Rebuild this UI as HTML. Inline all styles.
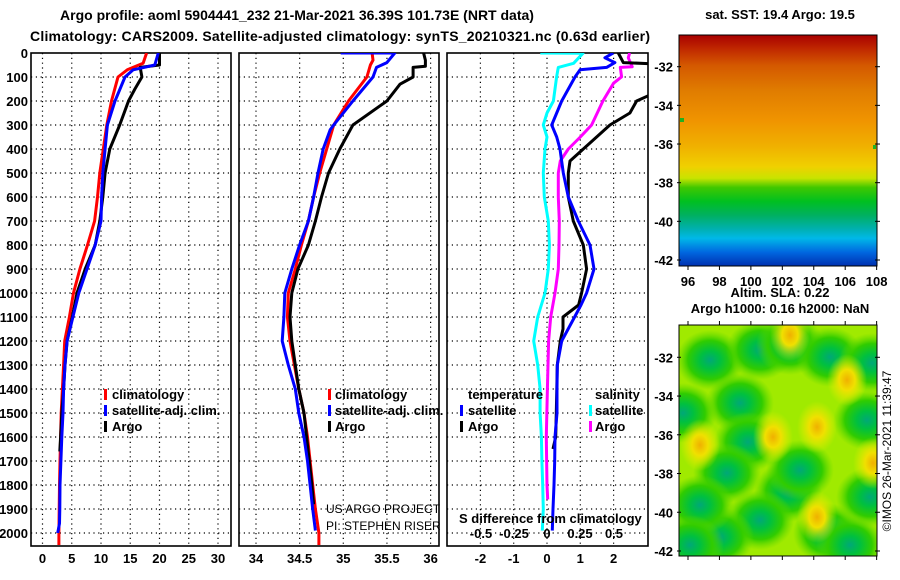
<!DOCTYPE html>
<html><head><meta charset="utf-8"><style>
html,body{margin:0;padding:0;background:#fff;}
svg{display:block;font-family:"Liberation Sans",sans-serif;}
.b{font-weight:bold;font-size:13px;}
.t{font-weight:bold;font-size:14px;}
</style></head><body>
<svg id="chart" width="900" height="580" viewBox="0 0 900 580" xmlns="http://www.w3.org/2000/svg">
<defs>
<clipPath id="c1"><rect x="31" y="53" width="200" height="493"/></clipPath>
<clipPath id="c2"><rect x="239" y="53" width="200" height="493"/></clipPath>
<clipPath id="c3"><rect x="447" y="53" width="201" height="493"/></clipPath>
<linearGradient id="sstg" x1="0" y1="0" x2="0" y2="1">
<stop offset="0" stop-color="#a80000"/><stop offset="0.06" stop-color="#c02800"/>
<stop offset="0.13" stop-color="#d45800"/><stop offset="0.24" stop-color="#e07c00"/>
<stop offset="0.37" stop-color="#f09400"/><stop offset="0.48" stop-color="#f0b000"/>
<stop offset="0.57" stop-color="#f0d000"/><stop offset="0.62" stop-color="#c8e400"/>
<stop offset="0.66" stop-color="#40c800"/><stop offset="0.72" stop-color="#00c020"/>
<stop offset="0.78" stop-color="#00b060"/><stop offset="0.84" stop-color="#00b0b0"/>
<stop offset="0.88" stop-color="#00b8e8"/><stop offset="0.94" stop-color="#0068e0"/>
<stop offset="1" stop-color="#0030b0"/></linearGradient>
<radialGradient id="gb"><stop offset="0" stop-color="#00a878"/><stop offset="0.3" stop-color="#00c040"/><stop offset="0.65" stop-color="#30cc00"/><stop offset="1" stop-color="#60d800" stop-opacity="0"/></radialGradient>
<radialGradient id="gy"><stop offset="0" stop-color="#f0b000"/><stop offset="0.4" stop-color="#f0e000"/><stop offset="1" stop-color="#e0f000" stop-opacity="0"/></radialGradient>
<clipPath id="cm2"><rect x="679" y="325" width="198" height="231"/></clipPath>
</defs>
<text class="t" x="297" y="20" text-anchor="middle">Argo profile: aoml 5904441_232 21-Mar-2021 36.39S 101.73E (NRT data)</text>
<text class="t" x="340" y="41" text-anchor="middle" textLength="620">Climatology: CARS2009. Satellite-adjusted climatology: synTS_20210321.nc (0.63d earlier)</text>
<g id="grid"></g>
<g id="axes"></g>
<g id="series"></g>

<g class="b">
<rect x="104" y="389" width="3" height="11" fill="#f00"/><text x="112" y="399">climatology</text>
<rect x="104" y="405" width="3" height="11" fill="#00f"/><text x="112" y="415">satellite-adj. clim.</text>
<rect x="104" y="421" width="3" height="11" fill="#000"/><text x="112" y="431">Argo</text>
</g>
<g class="b">
<rect x="328" y="389" width="3" height="11" fill="#f00"/><text x="335" y="399">climatology</text>
<rect x="328" y="405" width="3" height="11" fill="#00f"/><text x="335" y="415">satellite-adj. clim.</text>
<rect x="328" y="421" width="3" height="11" fill="#000"/><text x="335" y="431">Argo</text>
</g>
<g class="b">
<text x="468" y="399">temperature</text><text x="595" y="399">salinity</text>
<rect x="460" y="405" width="3" height="11" fill="#00f"/><text x="468" y="415">satellite</text>
<rect x="460" y="421" width="3" height="11" fill="#000"/><text x="468" y="431">Argo</text>
<rect x="589" y="405" width="3" height="11" fill="#0ff"/><text x="595" y="415">satellite</text>
<rect x="589" y="421" width="3" height="11" fill="#f0f"/><text x="595" y="431">Argo</text>
</g>
<text class="b" x="459" y="523">S difference from climatology</text>
<g class="b" text-anchor="middle">
<text x="481" y="538">-0.5</text><text x="514" y="538">-0.25</text><text x="547" y="538">0</text><text x="580" y="538">0.25</text><text x="614" y="538">0.5</text></g>
<text x="326" y="513" font-size="12">US ARGO PROJECT</text>
<text x="326" y="530" font-size="12">PI: STEPHEN RISER</text>

<g>
<text class="b" x="780" y="19" text-anchor="middle">sat. SST: 19.4 Argo: 19.5</text>
<rect x="679" y="35" width="198" height="231" fill="url(#sstg)"/>
<rect x="679" y="35" width="198" height="231" fill="none" stroke="#000"/>
<rect x="680" y="118" width="4" height="4" fill="#20b020"/>
<rect x="873" y="145" width="3" height="4" fill="#20b020"/>
</g>
<g>
<text class="b" x="780" y="297" text-anchor="middle">Altim. SLA: 0.22</text>
<text class="b" x="780" y="313" text-anchor="middle">Argo h1000: 0.16 h2000: NaN</text>
<rect x="679" y="325" width="198" height="231" fill="#a0ea00"/>
<g clip-path="url(#cm2)" id="blobs"></g>
<rect x="679" y="325" width="198" height="231" fill="none" stroke="#000"/>
</g>
<text x="891" y="451" font-size="12" text-anchor="middle" transform="rotate(-90 891 451)">©IMOS 26-Mar-2021 11:39:47</text>
<g id="maxes" class="b"></g>
</svg>
<script>
// depth axis
const depthTicks = [0,100,200,300,400,500,600,700,800,900,1000,1100,1200,1300,1400,1500,1600,1700,1800,1900,2000];
const tempTicks = [0,5,10,15,20,25,30];
const salTicks = [34,34.5,35,35.5,36];
const salLabels = ["34","34.5","35","35.5","36"];
const diffTicks = [-2,-1,0,1,2];
const lonTicks = [96,98,100,102,104,106,108];
const latTicks = [-32,-34,-36,-38,-40,-42];

// temperature panel
const tClimDepth = [0,43,70,100,200,300,400,500,600,700,800,900,1000,1100,1200,1300,1400,1500,1600,1700,1800,1900,2000,2050];
const tClimVal   = [17.8,17.2,14.5,12.9,11.8,11.0,10.4,9.8,9.4,8.9,7.7,6.4,5.3,4.6,3.8,3.6,3.4,3.2,3.1,3.0,2.9,2.85,2.8,2.8];
const tSatDepth = [0,50,70,100,200,300,400,500,600,700,800,900,1000,1100,1200,1300,1400,1500,1600,1700,1800,1900,1960,2000];
const tSatVal   = [19.8,19.2,15.5,14.1,12.4,11.1,10.7,10.3,10.1,10.0,9.0,7.6,6.2,5.2,4.2,3.85,3.6,3.5,3.3,3.15,3.0,2.95,2.9,2.6];
const tArgoDepth = [0,50,60,100,150,200,300,400,500,600,700,800,900,1000,1100,1200,1300,1400,1500,1600,1660];
const tArgoVal   = [20,20,16.7,17,15.8,14.7,13.2,11.5,10.7,10.3,9.8,9.0,7.3,5.9,5.1,4.2,3.85,3.6,3.3,3.1,2.95];
// salinity panel
const sClimDepth = [0,30,50,100,200,300,400,500,600,700,800,900,1000,1100,1200,1300,1400,1500,1600,1700,1800,1900,2000,2050];
const sClimVal   = [35.33,35.34,35.31,35.27,35.06,34.89,34.81,34.73,34.66,34.60,34.52,34.45,34.37,34.36,34.39,34.44,34.49,34.55,34.59,34.62,34.65,34.68,34.72,34.72];
const sSatDepth = [0,0.1,40,60,100,200,300,320,400,500,600,700,800,900,1000,1100,1200,1300,1400,1500,1600,1700,1800,1900,1990];
const sSatVal   = [34.97,35.59,35.50,35.38,35.34,35.11,34.89,34.85,34.77,34.71,34.66,34.60,34.50,34.41,34.33,34.32,34.30,34.37,34.45,34.49,34.55,34.59,34.62,34.65,34.68];
const sArgoDepth = [0,30,55,60,100,130,200,300,400,500,600,700,800,900,1000,1100,1200,1300,1400,1500,1600,1700,1800,1880];
const sArgoVal   = [35.92,35.94,35.94,35.80,35.80,35.65,35.50,35.11,34.96,34.83,34.75,34.68,34.60,34.48,34.41,34.39,34.41,34.45,34.49,34.55,34.58,34.61,34.64,34.66];
// difference panel (temperature units; salinity values are S diff, plotted x4)
const dTSatDepth = [0,20,40,60,70,100,200,300,350,400,500,600,700,800,900,1000,1050,1100,1200,1300,1400,1500,1600,1700,1800,1900,1990];
const dTSatVal   = [1.99,1.74,2.04,1.79,0.99,0.84,0.44,0.14,0.29,0.39,0.49,0.64,0.94,1.29,1.41,1.19,1.02,0.83,0.44,0.31,0.30,0.30,0.24,0.23,0.21,0.18,0.16];
const dTArgoDepth = [0,40,45,168,200,250,300,400,450,500,600,700,800,900,1000,1050,1100,1150,1200,1300,1500,1600,1650];
const dTArgoVal   = [2.14,2.29,3.2,3.2,2.69,2.49,1.89,1.09,0.69,0.64,0.64,0.79,1.09,1.19,1.04,0.95,0.48,0.48,0.40,0.31,0.28,0.26,0.18];
const dSSatDepth = [0,1,43,60,100,200,250,300,350,400,500,600,700,800,900,1000,1100,1200,1300,1400,1500,1600,1700,1800,1900,1990];
const dSSatVal   = [-0.05,0.27,0.20,0.085,0.072,0.048,0,-0.028,0,-0.015,-0.028,-0.02,0.01,0.018,0.01,-0.015,-0.07,-0.10,-0.07,-0.052,-0.052,-0.042,-0.038,-0.032,-0.028,-0.035];
const dSArgoDepth = [0,20,57,60,99,126,200,300,350,400,450,500,600,700,800,900,1000,1100,1200,1400,1600,1800,1860];
const dSArgoVal   = [0.62,0.61,0.64,0.55,0.56,0.50,0.42,0.335,0.25,0.16,0.10,0.085,0.085,0.092,0.09,0.085,0.06,0.028,0.012,0.003,-0.005,0.0,0.005];

const NS='http://www.w3.org/2000/svg';
const yD = d => 53 + d*0.24;
const xT = v => 42.5 + v*5.85;
const xS = v => 256 + (v-34)*87.3;
const xDf = v => 547 + v*33.3;
const xDs = v => 547 + v*4*33.3;
const lonX = v => 688 + (v-96)*15.72;
const latY1 = v => 66.7 + (-32 - v)*19.33;
const latY2 = v => 357.3 + (-32 - v)*19.37;
function mk(tag, attrs, parent){const e=document.createElementNS(NS,tag);for(const k in attrs)e.setAttribute(k,attrs[k]);parent.appendChild(e);return e;}
const grid=document.getElementById('grid'), axes=document.getElementById('axes'), series=document.getElementById('series');
const panels=[{x0:31,x1:231,ticks:tempTicks,labels:tempTicks.map(String),f:xT,n:'temperature'},
{x0:239,x1:439,ticks:salTicks,labels:salLabels,f:xS,n:'salinity'},
{x0:447,x1:648,ticks:diffTicks,labels:diffTicks.map(String),f:xDf,n:'difference'}];
panels.forEach(p=>{
  depthTicks.forEach(d=>{ if(d>0){const l=mk('line',{x1:p.x0,x2:p.x1,y1:yD(d),y2:yD(d),stroke:'#000','stroke-width':1.2,'stroke-dasharray':'1.2 3.6'},grid);
    
    }});
  p.ticks.forEach((t,i)=>{const x=p.f(t);
    const l=mk('line',{x1:x,x2:x,y1:53,y2:546,stroke:'#000','stroke-width':1.2,'stroke-dasharray':'1.2 3.6'},grid);
    
    
    const tx=mk('text',{x:x,y:563,'text-anchor':'middle',class:'b'},axes); tx.textContent=p.labels[i];
    
    });
  const r=mk('rect',{x:p.x0,y:53,width:p.x1-p.x0,height:493,fill:'none',stroke:'#000','stroke-width':1.6},axes);
  
  
});
depthTicks.forEach(d=>{const t=mk('text',{x:28,y:yD(d)+5,'text-anchor':'end',class:'b'},axes);t.textContent=String(d);
  
  });
function line(ds,vs,fx,color,clip,name){
  const pts=ds.map((d,i)=>fx(vs[i]).toFixed(1)+','+yD(d).toFixed(1)).join(' ');
  const pl=mk('polyline',{points:pts,fill:'none',stroke:color,'stroke-width':3,'stroke-linejoin':'round','clip-path':'url(#'+clip+')'},series);
  
  
}
line(tClimDepth,tClimVal,xT,'#f00','c1','temperature-climatology-line');
line(tArgoDepth,tArgoVal,xT,'#000','c1','temperature-argo-line');
line(tSatDepth,tSatVal,xT,'#00f','c1','temperature-satellite-line');
line(sClimDepth,sClimVal,xS,'#f00','c2','salinity-climatology-line');
line(sArgoDepth,sArgoVal,xS,'#000','c2','salinity-argo-line');
line(sSatDepth,sSatVal,xS,'#00f','c2','salinity-satellite-line');
line(dSSatDepth,dSSatVal,xDs,'#0ff','c3','salinity-satellite-diff-line');
line(dSArgoDepth,dSArgoVal,xDs,'#f0f','c3','salinity-argo-diff-line');
line(dTArgoDepth,dTArgoVal,xDf,'#000','c3','temperature-argo-diff-line');
line(dTSatDepth,dTSatVal,xDf,'#00f','c3','temperature-satellite-diff-line');

// map axes
const ma=document.getElementById('maxes');
latTicks.forEach(v=>{[latY1(v),latY2(v)].forEach(y=>{
  const t=mk('text',{x:673,y:y+5,'text-anchor':'end'},ma);t.textContent=String(v);
  
  
  mk('line',{x1:677,x2:681,y1:y,y2:y,stroke:'#000'},ma);
  mk('line',{x1:875,x2:880,y1:y,y2:y,stroke:'#000'},ma);});});
lonTicks.forEach(v=>{const x=lonX(v);
  const t=mk('text',{x:x,y:286,'text-anchor':'middle'},ma);t.textContent=String(v);
  
  
  mk('line',{x1:x,x2:x,y1:266,y2:270,stroke:'#000'},ma);
  mk('line',{x1:x,x2:x,y1:556,y2:560,stroke:'#000'},ma);
  mk('line',{x1:x,x2:x,y1:321,y2:325,stroke:'#000'},ma);});

// SLA map blobs
const blobGreenX=[710,760,790,830,872,740,683,867,748,788,870,760,720,827,727,700,800,690,850];
const blobGreenY=[360,350,345,357,363,403,413,420,442,492,497,520,537,533,473,505,470,545,545];
const blobYellowX=[790,847,773,817,873,817,700];
const blobYellowY=[335,380,437,427,463,517,445];
const bl=document.getElementById('blobs');
blobGreenX.forEach((x,i)=>{const c=mk('ellipse',{cx:x,cy:blobGreenY[i],rx:34,ry:30,fill:'url(#gb)'},bl);
  
  });
blobYellowX.forEach((x,i)=>{const c=mk('ellipse',{cx:x,cy:blobYellowY[i],rx:20,ry:26,fill:'url(#gy)'},bl);
  
  });
</script>
</body></html>
